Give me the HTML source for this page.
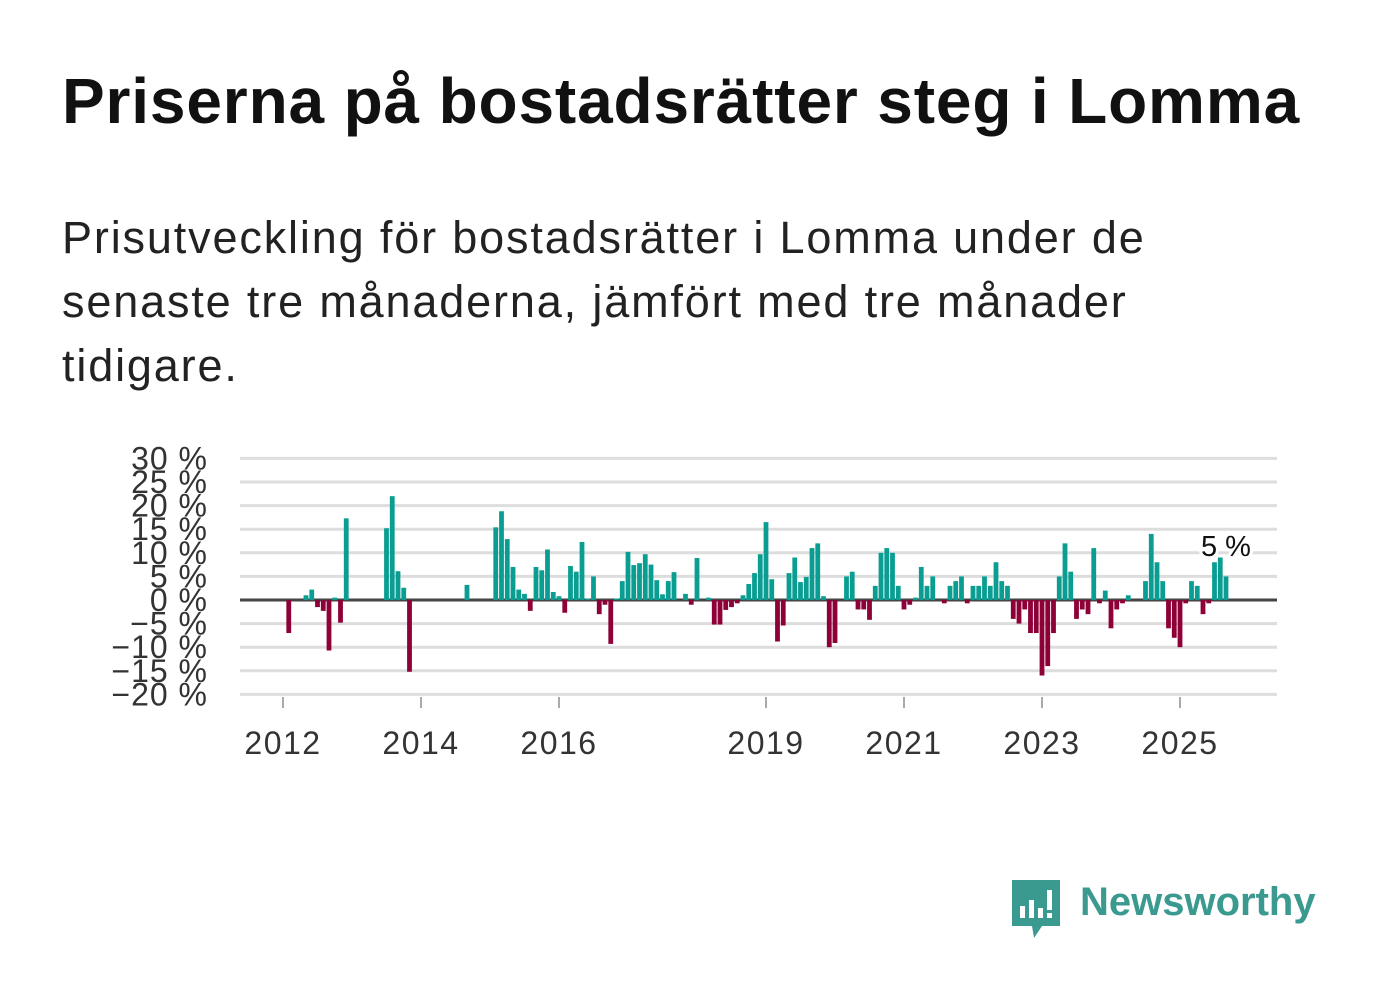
<!DOCTYPE html>
<html><head><meta charset="utf-8"><style>
body{margin:0;width:1382px;height:999px;background:#fff;font-family:"Liberation Sans",sans-serif;overflow:hidden;position:relative}
.t{position:absolute;left:62px;top:64px;font-size:64px;font-weight:bold;color:#111;white-space:nowrap;letter-spacing:0.85px}
.s{position:absolute;left:62px;top:206px;font-size:45px;line-height:64px;color:#222;white-space:nowrap;letter-spacing:1.85px}
</style></head><body>
<div class="t">Priserna på bostadsrätter steg i Lomma</div>
<div class="s">Prisutveckling för bostadsrätter i Lomma under de<br>senaste tre månaderna, jämfört med tre månader<br>tidigare.</div>
<svg id="chart" width="1382" height="999" style="position:absolute;left:0;top:0"></svg>
<div style="position:absolute;left:1012px;top:880px;">
<svg width="50" height="60"><path d="M0 0H48V46H30L22 58L20 46H0Z" fill="#3a9a8f"/><rect x="8" y="26" width="5" height="12" fill="#fff"/><rect x="17" y="20" width="5" height="18" fill="#fff"/><rect x="26" y="28" width="5" height="10" fill="#fff"/><rect x="35" y="10" width="5" height="20" fill="#fff"/><rect x="35" y="33" width="5" height="5" fill="#fff"/></svg>
<div style="position:absolute;left:68px;top:0px;font-size:40px;font-weight:bold;color:#3a9a8f;white-space:nowrap">Newsworthy</div>
</div>
<script>
const startYear = 2012;
const values = [null,-7,null,null,1,2.2,-1.5,-2.3,-10.7,0.5,-4.8,17.3,null,null,null,null,null,null,15.2,22,6.1,2.6,-15.2,null,null,null,null,null,null,null,null,null,3.2,null,null,null,null,15.4,18.8,12.9,7,2.2,1.3,-2.3,7,6.3,10.7,1.7,0.8,-2.7,7.2,6,12.3,0.3,5,-3,-1,-9.3,0.3,4,10.2,7.4,7.8,9.7,7.5,4.2,1.2,4,5.9,null,1.3,-1,8.9,null,0.5,-5.2,-5.2,-2.1,-1.5,-0.7,1,3.4,5.7,9.7,16.5,4.4,-8.8,-5.4,5.7,9,3.8,4.9,11,12,0.8,-10,-9.1,null,5,6,-2,-2,-4.2,3,10,11,10,3,-2,-1,0.5,7,3,5,null,-0.7,3,4,5,-0.7,3,3,5,3,8,4,3,-4,-5,-2,-7,-7,-16,-14,-7,5,12,6,-4,-2,-3,11,-0.7,2,-6,-2,-0.7,1,null,null,4,14,8,4,-6,-8,-10,-0.7,4,3,-3,-0.7,8,9,5];
const yTicks = [30,25,20,15,10,5,0,-5,-10,-15,-20];
const xTickYears = [2012,2014,2016,2019,2021,2023,2025];
const lastLabel = "5 %";
const NS="http://www.w3.org/2000/svg";
const svg=document.getElementById('chart');
const x0=283, monthW=5.75, plotL=240, plotR=1277;
const y=v=>600-v*4.72;
const x=i=>x0+i*monthW;
function mk(t,a){const e=document.createElementNS(NS,t);for(const k in a)e.setAttribute(k,a[k]);svg.appendChild(e);return e;}
yTicks.forEach(v=>{
  const l=mk('line',{x1:plotL,x2:plotR,y1:y(v),y2:y(v),stroke:v===0?'#444':'#ddd','stroke-width':3});
  
  
  const t=mk('text',{x:208,y:y(v)+11,'text-anchor':'end','font-size':32,'letter-spacing':1,fill:'#333','font-family':'Liberation Sans, sans-serif'});
  t.textContent=(v<0?'\u2212'+(-v):v)+' %';
  
  
});
values.forEach((v,i)=>{
  if(v===null)return;
  const r=mk('rect',{x:x(i)-2.4,width:4.8,y:Math.min(y(v),600),height:Math.abs(y(v)-600),fill:v>=0?'#0a9e92':'#8e0038'});
  
  
});
xTickYears.forEach(yr=>{
  const xi=x((yr-startYear)*12);
  const l=mk('line',{x1:xi,x2:xi,y1:697,y2:708,stroke:'#aaa','stroke-width':2});
  
  
  const t=mk('text',{x:xi,y:754,'text-anchor':'middle','font-size':32,'letter-spacing':1.5,fill:'#333','font-family':'Liberation Sans, sans-serif'});
  t.textContent=yr;
  
  
});
const li=values.length-1;
const lb=mk('text',{x:x(li),y:556,'text-anchor':'middle','font-size':29,fill:'#111',stroke:'#fff','stroke-width':6,'paint-order':'stroke','font-family':'Liberation Sans, sans-serif'});
lb.textContent=lastLabel;


</script>
</body></html>
